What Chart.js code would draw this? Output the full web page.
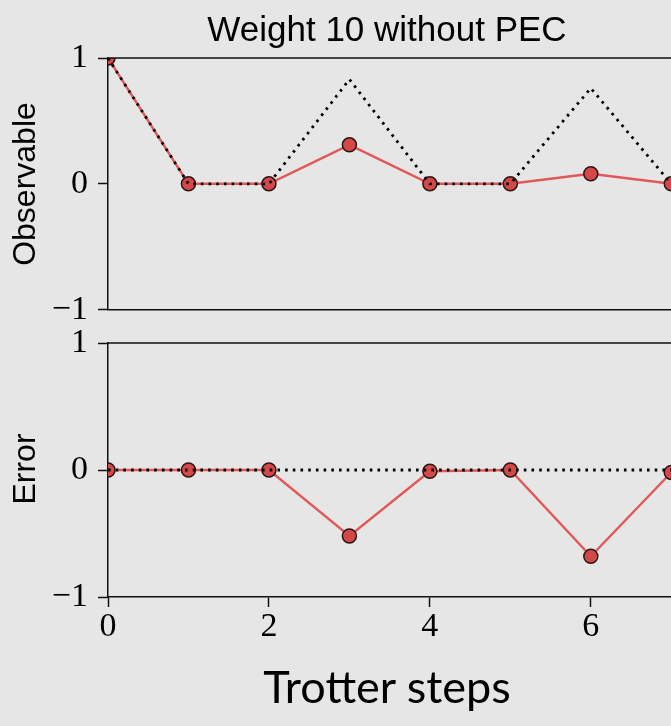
<!DOCTYPE html>
<html>
<head>
<meta charset="utf-8">
<script src="https://cdn.jsdelivr.net/npm/chart.js@4/dist/chart.umd.min.js"></script>
<style>
  html, body { margin: 0; padding: 0; background: #e6e6e6; }
  #wrap { position: relative; width: 671px; height: 726px; overflow: hidden; background: #e6e6e6; }
  canvas { position: absolute; left: 0; }
  #cTop { top: 0; }
  #cBot { top: 300px; }
  .txt { position: absolute; white-space: nowrap; color: #000; line-height: 1; }
  #title { left: 387px; top: 9px; transform: translateX(-50%); font: 35px "Liberation Sans", Arial, sans-serif; }
  #xlab { left: 387px; top: 659px; transform: translateX(-50%); font: 45px Lato, "Open Sans", sans-serif; }
  .ylab { font: 32px "Liberation Sans", Arial, sans-serif; transform: translate(-50%, -50%) rotate(-90deg); }
  #ylabTop { left: 24px; top: 184px; }
  #ylabBot { left: 24px; top: 469px; }
</style>
</head>
<body>
<div id="wrap">
  <canvas id="cTop" width="720" height="340"></canvas>
  <canvas id="cBot" width="720" height="426"></canvas>
  <div class="txt" id="title">Weight 10 without PEC</div>
  <div class="txt ylab" id="ylabTop">Observable</div>
  <div class="txt ylab" id="ylabBot">Error</div>
  <div class="txt" id="xlab">Trotter steps</div>
</div>
<script>
// Trotter step index
const steps = [0, 1, 2, 3, 4, 5, 6, 7];
// Measured observable (noisy run) and exact reference
const observed = [1, 0, 0, 0.31, 0, 0, 0.08, 0];
const exact = [1, 0, 0, 0.83, 0, 0, 0.76, 0];
// Error = measured - exact, with the zero reference line
const errorVals = [0, 0, 0, -0.52, -0.01, 0, -0.68, -0.02];
const zeroRef = [0, 0, 0, 0, 0, 0, 0, 0];
// Tick positions
const xTickVals = [0, 2, 4, 6];
const yTickVals = [-1, 0, 1];

const RED_LINE = 'rgb(226, 88, 88)';
const RED_FILL = 'rgb(212, 72, 72)';
const EDGE = '#2a1515';
const SERIF = '"Liberation Serif", "DejaVu Serif", serif';

function pts(ys) { return steps.map((x, i) => ({ x: x, y: ys[i] })); }

function fmt(v) { return v < 0 ? '\u2212' + Math.abs(v) : String(v); }

// clips the data marks to the plotting area and draws the frame's top edge
const frameClip = {
  id: 'frameClip',
  beforeDatasetsDraw(chart) {
    const a = chart.chartArea, ctx = chart.ctx;
    ctx.save();
    ctx.beginPath();
    ctx.rect(a.left, a.top, a.right - a.left, a.bottom - a.top);
    ctx.clip();
  },
  afterDatasetsDraw(chart) {
    const a = chart.chartArea, ctx = chart.ctx;
    ctx.restore();
    ctx.save();
    ctx.strokeStyle = '#111';
    ctx.lineWidth = 1.5;
    ctx.beginPath();
    ctx.moveTo(a.left - 0.75, a.top);
    ctx.lineTo(a.right, a.top);
    ctx.stroke();
    ctx.restore();
  }
};

function makeChart(id, measured, reference, opts) {
  return new Chart(document.getElementById(id), {
    type: 'line',
    data: {
      datasets: [
        {
          data: pts(reference),
          borderColor: '#000',
          borderWidth: 2.8,
          borderDash: [2.6, 5.1],
          pointRadius: 0,
          fill: false,
          tension: 0,
          clip: 0,
          order: 0
        },
        {
          data: pts(measured),
          borderColor: RED_LINE,
          borderWidth: 2.4,
          pointRadius: 7,
          pointBackgroundColor: RED_FILL,
          pointBorderColor: EDGE,
          pointBorderWidth: 1.5,
          fill: false,
          tension: 0,
          clip: 0,
          order: 1
        }
      ]
    },
    options: {
      responsive: false,
      animation: false,
      events: [],
      layout: { padding: opts.padding },
      plugins: { legend: { display: false }, tooltip: { enabled: false }, title: { display: false } },
      scales: {
        x: {
          type: 'linear',
          min: 0,
          max: 7.5,
          afterBuildTicks: s => { s.ticks = xTickVals.map(v => ({ value: v })); },
          afterFit: s => { s.height = opts.xHeight; },
          ticks: {
            display: opts.showX,
            color: '#000',
            font: { family: SERIF, size: 34 },
            padding: 0,
            maxRotation: 0,
            callback: v => fmt(v)
          },
          grid: { display: opts.showX, drawOnChartArea: false, drawTicks: true, tickLength: 10, tickColor: '#111', tickWidth: 1.5 },
          border: { display: true, color: '#111', width: 1.5 }
        },
        y: {
          min: -1,
          max: 1,
          afterBuildTicks: s => { s.ticks = yTickVals.map(v => ({ value: v })); },
          afterFit: s => { s.width = 108; },
          ticks: {
            color: '#000',
            font: { family: SERIF, size: 34 },
            padding: 10,
            callback: v => fmt(v)
          },
          grid: { drawOnChartArea: false, drawTicks: true, tickLength: 10, tickColor: '#111', tickWidth: 1.5 },
          border: { display: true, color: '#111', width: 1.5 }
        }
      }
    },
    plugins: [frameClip]
  });
}

makeChart('cTop', observed, exact, {
  padding: { top: 58, left: 0, right: 7, bottom: 28 },
  xHeight: 0,
  showX: false
});
makeChart('cBot', errorVals, zeroRef, {
  padding: { top: 43, left: 0, right: 7, bottom: 0 },
  xHeight: 129,
  showX: true
});
</script>
</body>
</html>
